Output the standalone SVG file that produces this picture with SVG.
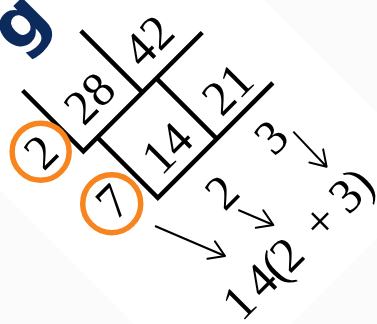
<svg xmlns="http://www.w3.org/2000/svg" width="377" height="324" viewBox="0 0 377 324">
<defs>
<style>
.num{font-size:49px;fill:#000;text-anchor:middle}
.bar{fill:none;stroke:#000;stroke-width:4.5;stroke-linejoin:miter;stroke-linecap:butt}
.ring{fill:none;stroke:#f7841f;stroke-width:5.5}
.arr{fill:none;stroke:#000;stroke-width:2;marker-end:url(#ah)}
.title{font-weight:bold;font-size:70px;fill:#0c2a5c}
</style>
<marker id="ah" markerUnits="userSpaceOnUse" markerWidth="30" markerHeight="30" refX="0" refY="0" viewBox="-20 -15 25 30" orient="auto">
<path d="M-15,-9.5 L0,0 L-15,9.5" fill="none" stroke="#000" stroke-width="2" stroke-linecap="round" stroke-linejoin="round"/>
</marker>
</defs>
<rect width="377" height="324" fill="#fbfbfb"/>
<polygon points="0,0 264,0 377,113 377,238 291,324 134,324 0,190" fill="#fff"/>
<g transform="rotate(-45)" style="font-family:'Liberation Serif',serif">
  <g id="title"><text class="title" x="-27" y="52" style="font-family:'DejaVu Sans',sans-serif">g</text></g>
  <g id="ladder">
    <polyline class="bar" points="-48,80 -48,166 120,166"/>
    <line class="bar" x1="35.4" y1="79" x2="35.4" y2="166"/>
    <polyline class="bar" points="-28.3,166 -28.3,251.5 134.4,251.5"/>
    <line class="bar" x1="55.2" y1="166" x2="55.2" y2="251.5"/>
  </g>
  <g id="div2"><circle class="ring" cx="-78.5" cy="136" r="28.5"/><text class="num" x="-78.5" y="152.5">2</text></g>
  <g id="div7"><circle class="ring" cx="-65" cy="223" r="29"/><text class="num" x="-63" y="238.5">7</text></g>
  <g id="n28"><text class="num" x="-6" y="149">28</text></g>
  <g id="n42"><text class="num" x="76" y="150">42</text></g>
  <g id="n14"><text class="num" x="13.4" y="239">14</text></g>
  <g id="n21"><text class="num" x="98" y="240">21</text></g>
  <g id="q2"><text class="num" x="21" y="309">2</text></g>
  <g id="q3"><text class="num" x="94.8" y="305">3</text></g>
  <g id="result"><text class="num" y="399"><tspan x="-45">1</tspan><tspan x="-14">4</tspan><tspan x="5">(</tspan><tspan x="29">2 </tspan><tspan x="70">+</tspan><tspan x="106">3</tspan><tspan x="126">)</tspan></text></g>
  <g id="connectors">
    <line class="arr" x1="114.3" y1="300.5" x2="113" y2="348.9"/>
    <line class="arr" x1="20" y1="317" x2="34.2" y2="352.4"/>
    <line class="arr" x1="-50.2" y1="269.4" x2="-21.9" y2="340.1"/>
  </g>
</g>
</svg>
